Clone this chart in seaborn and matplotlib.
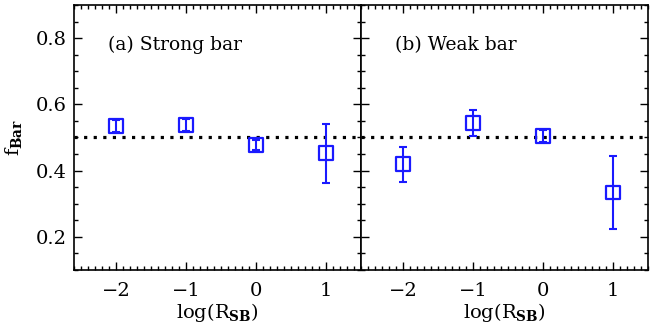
import numpy as np
import pandas as pd
import matplotlib
matplotlib.use("Agg")
import matplotlib.pyplot as plt
from matplotlib.ticker import MultipleLocator
import seaborn as sns

sns.set_style("ticks")
plt.rcParams["font.family"] = ["DejaVu Serif"]
plt.rcParams["mathtext.fontset"] = "dejavuserif"
plt.rcParams["text.color"] = "black"
plt.rcParams["axes.labelcolor"] = "black"
plt.rcParams["xtick.color"] = "black"
plt.rcParams["ytick.color"] = "black"
plt.rcParams["axes.edgecolor"] = "black"

# log(R_SB) bins
log_rsb = [-2, -1, 0, 1]

# Strong-bar fraction and 1-sigma errors
strong_f = [0.535, 0.538, 0.477, 0.452]
strong_err = [0.018, 0.018, 0.015, 0.089]

# Weak-bar fraction and 1-sigma errors
weak_f = [0.419, 0.544, 0.504, 0.334]
weak_err = [0.053, 0.040, 0.018, 0.110]

panel_titles = ["(a) Strong bar", "(b) Weak bar"]
x_ticks = [-2, -1, 0, 1]
y_ticks = [0.2, 0.4, 0.6, 0.8]
ref_level = 0.5

blue = "#1a1aff"

fig = plt.figure(figsize=(6.5, 3.28), dpi=100)
left, bottom, w, h = 74 / 650, 58 / 328, 287 / 650, 265 / 328
ax1 = fig.add_axes([left, bottom, w, h])
ax2 = fig.add_axes([left + w, bottom, w, h], sharey=ax1)

for ax, f, err, title in [(ax1, strong_f, strong_err, panel_titles[0]),
                          (ax2, weak_f, weak_err, panel_titles[1])]:
    df = pd.DataFrame({"x": log_rsb, "f": f, "err": err})
    ax.axhline(ref_level, color="black", lw=2.3, ls=(0, (1, 2.0)), zorder=1)
    ax.errorbar(df["x"], df["f"], yerr=df["err"], fmt="none", ecolor=blue,
                elinewidth=1.5, capsize=3, capthick=1.5, zorder=2)
    sns.scatterplot(data=df, x="x", y="f", ax=ax, marker="s", s=100,
                    facecolor="none", edgecolor=blue, linewidth=1.6,
                    zorder=3, legend=False)
    ax.set_xlim(-2.6, 1.5)
    ax.set_ylim(0.1, 0.9)
    ax.set_xticks(x_ticks)
    ax.set_xticklabels([str(t).replace("-", "\u2212") for t in x_ticks])
    ax.xaxis.set_minor_locator(MultipleLocator(0.1))
    ax.yaxis.set_minor_locator(MultipleLocator(0.05))
    ax.tick_params(which="both", direction="in", top=True, right=True,
                   width=1.0, labelsize=14)
    ax.tick_params(axis="x", pad=9)
    ax.tick_params(axis="y", pad=5)
    ax.tick_params(which="major", length=6)
    ax.tick_params(which="minor", length=3)
    for sp in ax.spines.values():
        sp.set_linewidth(1.2)
    ax.set_xlabel(r"log(R$_{\mathbf{SB}}$)", fontsize=14, labelpad=0)
    ax.set_ylabel("")
    ax.text(-2.12, 0.78, title, fontsize=13.5, va="center", ha="left")

ax1.set_yticks(y_ticks)
ax1.set_yticklabels([f"{t:.1f}" for t in y_ticks])
ax1.set_ylabel(r"f$_{\mathbf{Bar}}$", fontsize=14, labelpad=9)
ax2.tick_params(axis="y", which="both", labelleft=False)

fig.savefig("out.png", dpi=100)
